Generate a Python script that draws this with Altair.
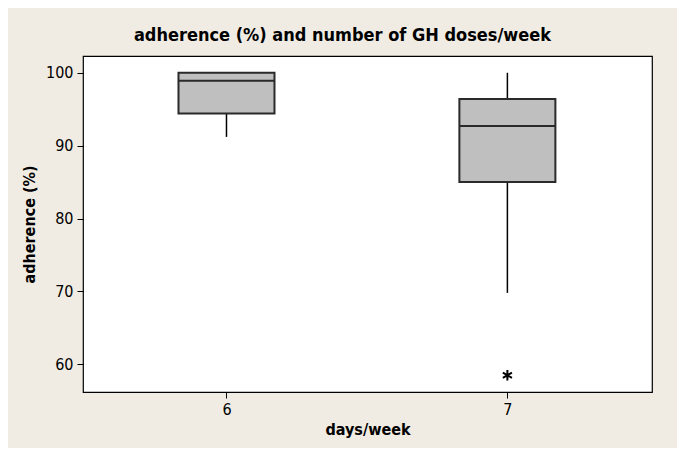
import altair as alt
import pandas as pd

# Summary statistics
days = [6, 7]
q1 = [94.4, 85.0]
median = [98.9, 92.7]
q3 = [100.0, 96.4]
whisker_low = [91.2, 69.8]
whisker_high = [100.0, 100.0]

outlier_days = [7]
outlier_values = [58.5]

y_ticks = [60, 70, 80, 90, 100]
x_ticks = [6, 7]

box = pd.DataFrame({
    "days": days, "q1": q1, "median": median, "q3": q3,
    "lo": whisker_low, "hi": whisker_high,
})
outl = pd.DataFrame({"days": outlier_days, "value": outlier_values})

FONT = "DejaVu Sans Condensed"
BOX_W = 96

xscale = alt.Scale(domain=[5.507, 7.497], nice=False, zero=False)
yscale = alt.Scale(domain=[56.2, 102.3], nice=False, zero=False)

x_enc = alt.X("days:Q", scale=xscale,
              axis=alt.Axis(values=x_ticks, title="days/week", grid=False,
                            domain=False, tickSize=6, tickColor="black",
                            labelPadding=3, titlePadding=4, format="d"))
y_enc = alt.Y("lo:Q", scale=yscale,
              axis=alt.Axis(values=y_ticks, title="adherence (%)", grid=False,
                            domain=False, tickSize=6, tickColor="black",
                            labelPadding=4, titlePadding=8))

base = alt.Chart(box)

whisk_low = base.mark_rule(color="black", strokeWidth=1.5).encode(
    x=x_enc, y=y_enc, y2="q1:Q")
whisk_high = base.mark_rule(color="black", strokeWidth=1.5).encode(
    x="days:Q", y="q3:Q", y2="hi:Q")
boxes = base.mark_bar(size=BOX_W, color="#bfbfbf", stroke="#2a2a2a",
                      strokeWidth=2).encode(
    x="days:Q", y="q1:Q", y2="q3:Q")
med = base.mark_tick(orient="horizontal", size=BOX_W, thickness=2,
                     color="#2a2a2a", opacity=1).encode(x="days:Q", y="median:Q")

asterisk = "M0,-1L0,1M-0.87,-0.5L0.87,0.5M-0.87,0.5L0.87,-0.5"
outliers = alt.Chart(outl).mark_point(shape=asterisk, size=110, color="black",
                                      strokeWidth=2, filled=False,
                                      opacity=1).encode(
    x="days:Q", y="value:Q")

chart = alt.layer(whisk_low, whisk_high, boxes, med, outliers).properties(
    width=569, height=336,
    title=alt.Title("adherence (%) and number of GH doses/week",
                    font=FONT, fontSize=18, fontWeight="bold", color="black",
                    anchor="middle", dx=-25, offset=11),
    background="#f0ece3",
    padding={"left": 75, "top": 48, "right": 25, "bottom": 56},
    autosize=alt.AutoSizeParams(type="none"),
).configure_view(
    fill="white", stroke="black", strokeWidth=1.2
).configure_axis(
    labelFont=FONT, labelFontSize=16, labelColor="black",
    titleFont=FONT, titleFontSize=16, titleFontWeight="bold", titleColor="black",
)

chart.save("out.html", embed_options={"renderer": "svg", "actions": False})
